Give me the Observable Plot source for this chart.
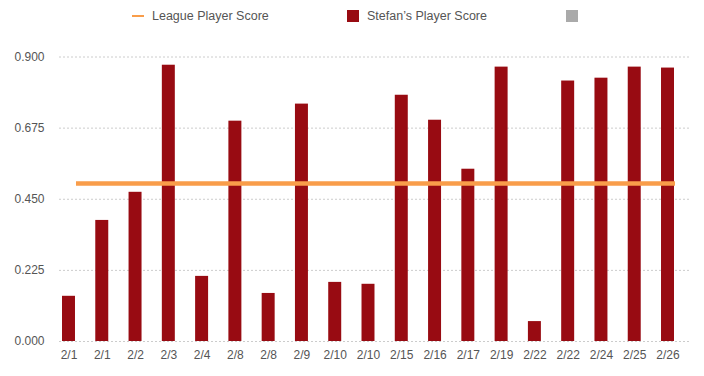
<!DOCTYPE html>
<html>
<head>
<meta charset="utf-8">
<script src="https://cdn.jsdelivr.net/npm/d3@7"></script>
<script src="https://cdn.jsdelivr.net/npm/@observablehq/plot@0.6"></script>
<style>
  html, body { margin: 0; padding: 0; background: #fff; }
  body { width: 704px; height: 376px; overflow: hidden; font-family: "Liberation Sans", Arial, Helvetica, sans-serif; }
  #legend { position: relative; height: 34px; width: 704px; font-size: 12.5px; color: #555; }
  #legend .item { position: absolute; top: 0; height: 32px; display: flex; align-items: center; }
  #legend .line { display: inline-block; width: 12px; height: 2px; background: #f99d4a; margin-right: 8px; }
  #legend .sq { display: inline-block; width: 12px; height: 12px; margin-right: 8px; }
</style>
</head>
<body>
<div id="legend">
  <div class="item" style="left:132px;"><span class="line"></span><span>League Player Score</span></div>
  <div class="item" style="left:347px;"><span class="sq" style="background:#980b12"></span><span>Stefan’s Player Score</span></div>
  <div class="item" style="left:566px;"><span class="sq" style="background:#aaaaaa"></span></div>
</div>
<div id="chart"></div>
<script>
const dates = ["2/1","2/1","2/2","2/3","2/4","2/8","2/8","2/9","2/10","2/10","2/15","2/16","2/17","2/19","2/22","2/22","2/24","2/25","2/26"];
const stefanScore = [0.143,0.383,0.472,0.874,0.206,0.697,0.152,0.751,0.187,0.181,0.779,0.700,0.545,0.868,0.063,0.824,0.833,0.868,0.865];
const leagueScore = [0.5,0.5,0.5,0.5,0.5,0.5,0.5,0.5,0.5,0.5,0.5,0.5,0.5,0.5,0.5,0.5,0.5,0.5,0.5];
const yTicks = [0, 0.225, 0.45, 0.675, 0.9];

const data = dates.map((d, i) => ({i, date: d, stefan: stefanScore[i], league: leagueScore[i]}));

const chart = Plot.plot({
  width: 704,
  height: 342,
  marginLeft: 59,
  marginRight: 14,
  marginTop: 22.5,
  marginBottom: 35,
  style: {fontSize: "12px", color: "#555", fontFamily: "'Liberation Sans', Arial, Helvetica, sans-serif", background: "#fff"},
  x: {
    type: "band",
    domain: data.map(d => d.i),
    range: [62, 674],
    paddingInner: 0.61,
    paddingOuter: 0,
    round: false,
    tickSize: 0,
    tickPadding: 9,
    tickFormat: i => dates[i],
    label: null
  },
  y: {
    domain: [0, 0.9],
    ticks: yTicks,
    tickFormat: d3.format(".3f"),
    tickSize: 0,
    tickPadding: 15,
    label: null
  },
  marks: [
    Plot.ruleY(yTicks, {stroke: "#cccccc", strokeDasharray: "2,2", strokeWidth: 1}),
    Plot.barY(data, {x: "i", y: "stefan", fill: "#980b12"}),
    Plot.lineY(data, {x: "i", y: "league", stroke: "#f99d4a", strokeWidth: 4.5, dx: 7, strokeLinecap: "butt"})
  ]
});
document.getElementById("chart").appendChild(chart);
</script>
</body>
</html>
